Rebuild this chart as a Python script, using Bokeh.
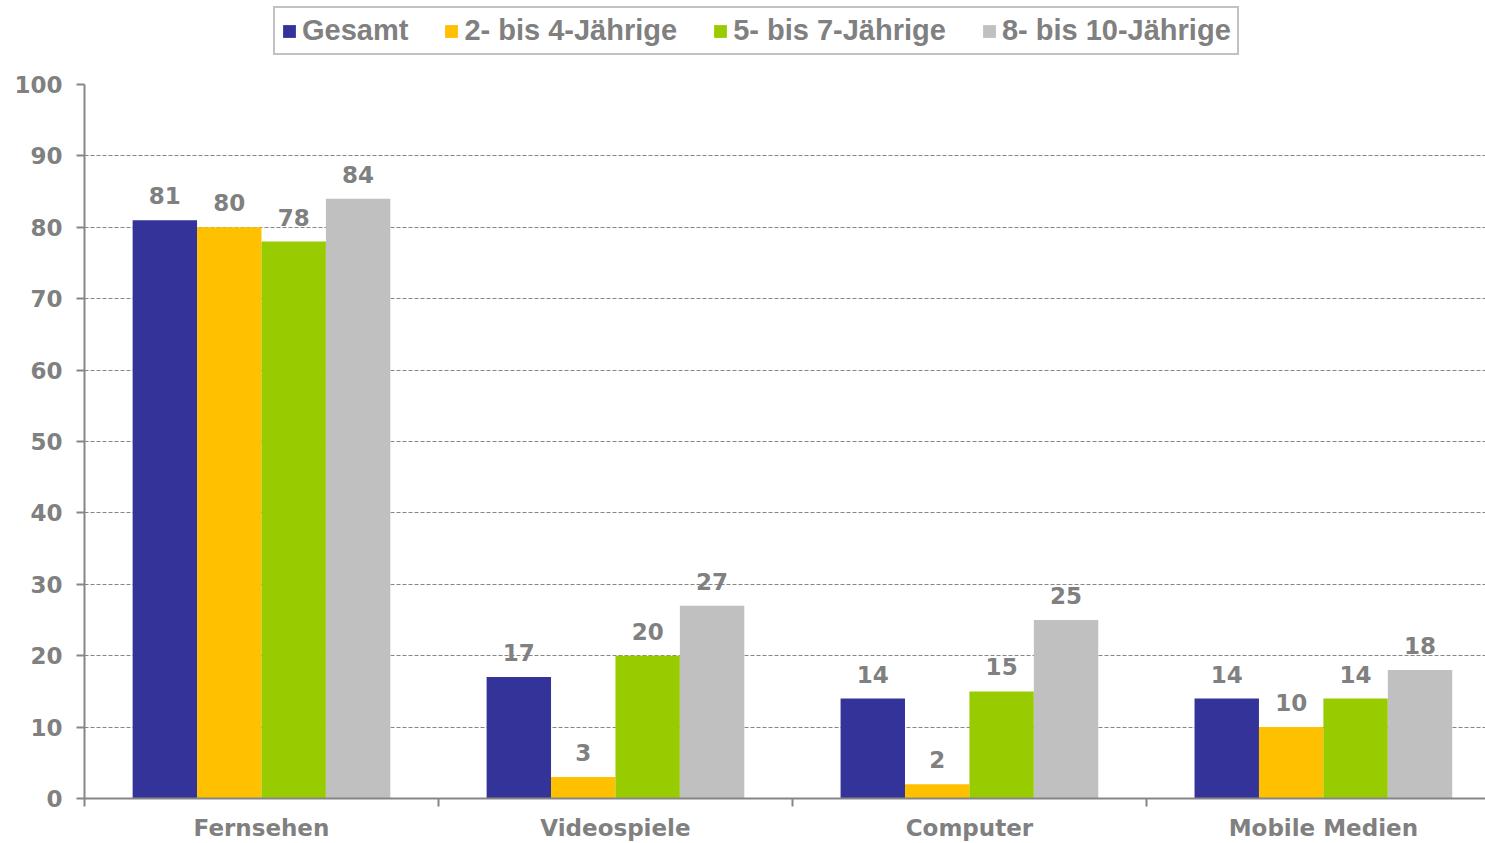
from bokeh.plotting import figure
from bokeh.layouts import column
from bokeh.models import ColumnDataSource, Range1d, FixedTicker, Legend, LegendItem
from bokeh.core.properties import value
from bokeh.embed import file_html
from bokeh.resources import INLINE

categories = ["Fernsehen", "Videospiele", "Computer", "Mobile Medien"]
series = ["Gesamt", "2- bis 4-Jährige", "5- bis 7-Jährige", "8- bis 10-Jährige"]
gesamt = [81, 17, 14, 14]
age_2_4 = [80, 3, 2, 10]
age_5_7 = [78, 20, 15, 14]
age_8_10 = [84, 27, 25, 18]
y_ticks = [0, 10, 20, 30, 40, 50, 60, 70, 80, 90, 100]

colors = ["#333399", "#FFC000", "#99CC00", "#C0C0C0"]
values_list = [gesamt, age_2_4, age_5_7, age_8_10]
offsets = [-0.273, -0.091, 0.091, 0.273]
bar_w = 0.182
GRAY = "#808080"
AX = "#868686"

TOP_H = 70

p = figure(width=1485, height=843 - TOP_H, x_range=Range1d(0, 3.958), y_range=Range1d(0, 100),
           output_backend="svg", toolbar_location=None,
           min_border_left=84, min_border_right=0, min_border_bottom=0, min_border_top=84 - TOP_H)
p.outline_line_color = None

for name, vals, col, off in zip(series, values_list, colors, offsets):
    xs = [i + 0.5 + off for i in range(len(categories))]
    src = ColumnDataSource(dict(x=xs, top=vals, label=[str(v) for v in vals]))
    p.vbar(x="x", top="top", width=bar_w, bottom=0, source=src,
           fill_color=col, line_color=None)
    p.text(x="x", y="top", text="label", source=src, text_align="center",
           text_baseline="bottom", y_offset=-16, text_color=GRAY,
           text_font=value("DejaVu Sans"), text_font_style="bold",
           text_font_size="23px")

# x axis
p.xaxis.ticker = FixedTicker(ticks=[i + 0.5 for i in range(len(categories))],
                             minor_ticks=list(range(len(categories) + 1)))
p.xaxis.major_label_overrides = {i + 0.5: c for i, c in enumerate(categories)}
p.xaxis.major_tick_out = 0
p.xaxis.major_tick_in = 0
p.xaxis.minor_tick_out = 8
p.xaxis.minor_tick_in = 0
p.xaxis.minor_tick_line_color = AX
p.xaxis.minor_tick_line_width = 2
p.xaxis.axis_line_color = AX
p.xaxis.axis_line_width = 2
p.xaxis.major_label_standoff = 8
p.xaxis.major_label_text_font = "DejaVu Sans"
p.xaxis.major_label_text_font_style = "bold"
p.xaxis.major_label_text_font_size = "23px"
p.xaxis.major_label_text_color = GRAY

# y axis
p.yaxis.ticker = FixedTicker(ticks=y_ticks)
p.yaxis.major_tick_out = 8
p.yaxis.major_tick_in = 0
p.yaxis.minor_tick_line_color = None
p.yaxis.major_tick_line_color = AX
p.yaxis.major_tick_line_width = 2
p.yaxis.axis_line_color = AX
p.yaxis.axis_line_width = 2
p.yaxis.major_label_standoff = 14
p.yaxis.major_label_text_font = "DejaVu Sans"
p.yaxis.major_label_text_font_style = "bold"
p.yaxis.major_label_text_font_size = "23px"
p.yaxis.major_label_text_color = GRAY

p.xgrid.visible = False
p.ygrid.grid_line_color = AX
p.ygrid.grid_line_dash = "4 2"
p.ygrid.grid_line_width = 1

# legend strip above the plot (swatch renderers lie outside its visible range)
lg = figure(width=1485, height=TOP_H, x_range=Range1d(0, 1), y_range=Range1d(0, 1),
            output_backend="svg", toolbar_location=None,
            min_border=0, min_border_left=84, min_border_right=0,
            min_border_top=0, min_border_bottom=0)
lg.axis.visible = False
lg.grid.visible = False
lg.outline_line_color = None
items = []
for name, col in zip(series, colors):
    r = lg.vbar(x=[-5], top=[-5], bottom=[-6], width=0.1, fill_color=col, line_color=None)
    items.append(LegendItem(label=name, renderers=[r]))

legend = Legend(items=items, orientation="horizontal", location=(189, 15),
                border_line_color=AX, border_line_width=2,
                glyph_width=16, glyph_height=16, label_standoff=5, spacing=35,
                padding=6, margin=0,
                label_text_font="Liberation Sans", label_text_font_style="bold",
                label_text_font_size="29px", label_text_color=GRAY)
lg.add_layout(legend, "center")

layout = column(lg, p, spacing=0)
open("out.html", "w").write(file_html(layout, INLINE))
